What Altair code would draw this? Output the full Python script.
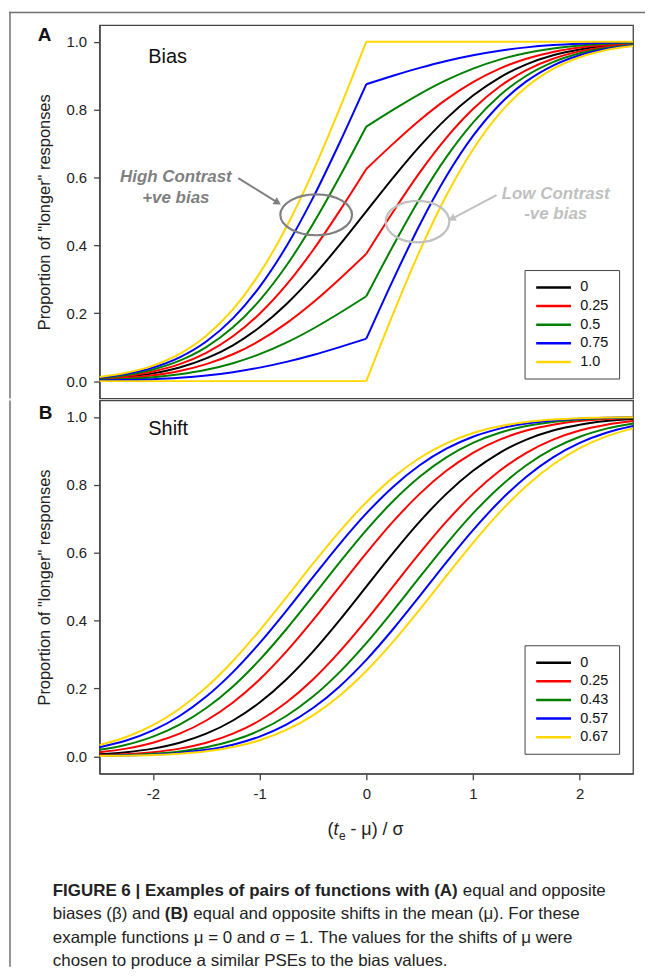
import altair as alt
import pandas as pd

# ---------------- data ----------------
X_FULL = [-2.5, -2.25, -2.0, -1.75, -1.5, -1.25, -1.0, -0.75, -0.5, -0.25, 0.0,
          0.25, 0.5, 0.75, 1.0, 1.25, 1.5, 1.75, 2.0, 2.25, 2.5]
X_LEFT = [-2.5, -2.25, -2.0, -1.75, -1.5, -1.25, -1.0, -0.75, -0.5, -0.25, 0.0]
X_RIGHT = [0.0, 0.25, 0.5, 0.75, 1.0, 1.25, 1.5, 1.75, 2.0, 2.25, 2.5]

A_LABELS = ["0", "0.25", "0.5", "0.75", "1.0"]
B_LABELS = ["0", "0.25", "0.43", "0.57", "0.67"]
COLORS = ["#000000", "#ff0000", "#008000", "#0000ff", "#ffd700"]

# Panel A (bias)
A_000 = [0.0062, 0.0122, 0.0228, 0.0401, 0.0668, 0.1056, 0.1587, 0.2266, 0.3085, 0.4013, 0.5,
         0.5987, 0.6915, 0.7734, 0.8413, 0.8944, 0.9332, 0.9599, 0.9772, 0.9878, 0.9938]
A_025_POS_L = [0.0078, 0.0153, 0.0285, 0.0501, 0.0835, 0.1320, 0.1984, 0.2833, 0.3856, 0.5016, 0.625]
A_025_POS_R = [0.625, 0.6990, 0.7686, 0.8300, 0.8810, 0.9208, 0.9499, 0.9699, 0.9829, 0.9908, 0.9953]
A_025_NEG_L = [0.0047, 0.0092, 0.0171, 0.0301, 0.0501, 0.0792, 0.1190, 0.1700, 0.2314, 0.3010, 0.375]
A_025_NEG_R = [0.375, 0.4984, 0.6144, 0.7167, 0.8016, 0.8680, 0.9165, 0.9499, 0.9715, 0.9847, 0.9922]
A_050_POS_L = [0.0093, 0.0183, 0.0342, 0.0602, 0.1002, 0.1584, 0.2381, 0.3399, 0.4628, 0.6020, 0.75]
A_050_POS_R = [0.75, 0.7994, 0.8458, 0.8867, 0.9207, 0.9472, 0.9666, 0.9800, 0.9886, 0.9939, 0.9969]
A_050_NEG_L = [0.0031, 0.0061, 0.0114, 0.0201, 0.0334, 0.0528, 0.0794, 0.1133, 0.1543, 0.2007, 0.25]
A_050_NEG_R = [0.25, 0.3980, 0.5372, 0.6601, 0.7619, 0.8416, 0.8998, 0.9398, 0.9658, 0.9817, 0.9907]
A_075_POS_L = [0.0109, 0.0214, 0.0399, 0.0702, 0.1169, 0.1848, 0.2777, 0.3966, 0.5399, 0.7023, 0.875]
A_075_POS_R = [0.875, 0.8997, 0.9229, 0.9434, 0.9603, 0.9736, 0.9833, 0.9900, 0.9943, 0.9970, 0.9985]
A_075_NEG_L = [0.0016, 0.0031, 0.0057, 0.0100, 0.0167, 0.0264, 0.0397, 0.0567, 0.0771, 0.1003, 0.125]
A_075_NEG_R = [0.125, 0.2977, 0.4601, 0.6034, 0.7223, 0.8152, 0.8831, 0.9298, 0.9601, 0.9786, 0.9891]
A_100_POS_L = [0.0124, 0.0244, 0.0456, 0.0802, 0.1336, 0.2112, 0.3174, 0.4532, 0.6170, 0.8026, 1.0]
A_100_POS_R = [1.0, 1.0, 1.0, 1.0, 1.0, 1.0, 1.0, 1.0, 1.0, 1.0, 1.0]
A_100_NEG_L = [0.0, 0.0, 0.0, 0.0, 0.0, 0.0, 0.0, 0.0, 0.0, 0.0, 0.0]
A_100_NEG_R = [0.0, 0.1974, 0.3830, 0.5468, 0.6826, 0.7888, 0.8664, 0.9198, 0.9544, 0.9756, 0.9876]

# Panel B (shift)
B_000 = [0.0062, 0.0122, 0.0228, 0.0401, 0.0668, 0.1056, 0.1587, 0.2266, 0.3085, 0.4013, 0.5,
         0.5987, 0.6915, 0.7734, 0.8413, 0.8944, 0.9332, 0.9599, 0.9772, 0.9878, 0.9938]
B_025_L = [0.0122, 0.0228, 0.0401, 0.0668, 0.1056, 0.1587, 0.2266, 0.3085, 0.4013, 0.5, 0.5987,
           0.6915, 0.7734, 0.8413, 0.8944, 0.9332, 0.9599, 0.9772, 0.9878, 0.9938, 0.9970]
B_025_R = [0.0030, 0.0062, 0.0122, 0.0228, 0.0401, 0.0668, 0.1056, 0.1587, 0.2266, 0.3085, 0.4013,
           0.5, 0.5987, 0.6915, 0.7734, 0.8413, 0.8944, 0.9332, 0.9599, 0.9772, 0.9878]
B_043_L = [0.0192, 0.0344, 0.0582, 0.0934, 0.1423, 0.2061, 0.2843, 0.3745, 0.4721, 0.5714, 0.6664,
           0.7517, 0.8238, 0.8810, 0.9236, 0.9535, 0.9732, 0.9854, 0.9925, 0.9963, 0.9983]
B_043_R = [0.0017, 0.0037, 0.0075, 0.0146, 0.0268, 0.0465, 0.0764, 0.1190, 0.1762, 0.2483, 0.3336,
           0.4286, 0.5279, 0.6255, 0.7157, 0.7939, 0.8577, 0.9066, 0.9418, 0.9656, 0.9808]
B_057_L = [0.0268, 0.0465, 0.0764, 0.1190, 0.1762, 0.2483, 0.3336, 0.4286, 0.5279, 0.6255, 0.7157,
           0.7939, 0.8577, 0.9066, 0.9418, 0.9656, 0.9808, 0.9898, 0.9949, 0.9976, 0.9989]
B_057_R = [0.0011, 0.0024, 0.0051, 0.0102, 0.0192, 0.0344, 0.0582, 0.0934, 0.1423, 0.2061, 0.2843,
           0.3745, 0.4721, 0.5714, 0.6664, 0.7517, 0.8238, 0.8810, 0.9236, 0.9535, 0.9732]
B_067_L = [0.0336, 0.0571, 0.0918, 0.1401, 0.2033, 0.2810, 0.3707, 0.4681, 0.5675, 0.6628, 0.7486,
           0.8212, 0.8790, 0.9222, 0.9525, 0.9726, 0.9850, 0.9922, 0.9962, 0.9982, 0.9992]
B_067_R = [0.0008, 0.0018, 0.0038, 0.0078, 0.0150, 0.0274, 0.0475, 0.0778, 0.1210, 0.1788, 0.2514,
           0.3372, 0.4325, 0.5319, 0.6293, 0.7190, 0.7967, 0.8599, 0.9082, 0.9429, 0.9664]

# Annotations of panel A (data units)
HIGH_TEXT = ["High Contrast", "+ve bias"]
HIGH_TX = [-1.785, -1.785]
HIGH_TY = [0.602, 0.540]
LOW_TEXT = ["Low Contrast", "-ve bias"]
LOW_TX = [1.775, 1.775]
LOW_TY = [0.550, 0.491]
ELLIPSE_X = [-0.47, 0.48]
ELLIPSE_Y = [0.490, 0.470]
ARROW_X0 = [-1.20, 1.22]
ARROW_Y0 = [0.598, 0.548]
ARROW_X1 = [-0.83, 0.80]
ARROW_Y1 = [0.526, 0.478]

CAPTION_1_BOLD = "FIGURE 6 | Examples of pairs of functions with (A)"
CAPTION_1_REST = "equal and opposite"
CAPTION_2_A = "biases (\u03b2) and"
CAPTION_2_BOLD = "(B)"
CAPTION_2_REST = "equal and opposite shifts in the mean (\u03bc). For these"
CAPTION_3 = "example functions \u03bc = 0 and \u03c3 = 1. The values for the shifts of \u03bc were"
CAPTION_4 = "chosen to produce a similar PSEs to the bias values."

# ---------------- build tables ----------------
def rows_for(label, seg, xs, ys):
    return [{"x": x, "y": y, "g": label, "seg": seg} for x, y in zip(xs, ys)]

rows_a = []
rows_a += rows_for("0", "k", X_FULL, A_000)
for lab, pl, pr, nl, nr in [
    ("0.25", A_025_POS_L, A_025_POS_R, A_025_NEG_L, A_025_NEG_R),
    ("0.5", A_050_POS_L, A_050_POS_R, A_050_NEG_L, A_050_NEG_R),
    ("0.75", A_075_POS_L, A_075_POS_R, A_075_NEG_L, A_075_NEG_R),
    ("1.0", A_100_POS_L, A_100_POS_R, A_100_NEG_L, A_100_NEG_R),
]:
    rows_a += rows_for(lab, lab + "pl", X_LEFT, pl)
    rows_a += rows_for(lab, lab + "pr", X_RIGHT, pr)
    rows_a += rows_for(lab, lab + "nl", X_LEFT, nl)
    rows_a += rows_for(lab, lab + "nr", X_RIGHT, nr)
df_a = pd.DataFrame(rows_a)

rows_b = []
rows_b += rows_for("0", "k", X_FULL, B_000)
for lab, l, r in [("0.25", B_025_L, B_025_R), ("0.43", B_043_L, B_043_R),
                  ("0.57", B_057_L, B_057_R), ("0.67", B_067_L, B_067_R)]:
    rows_b += rows_for(lab, lab + "l", X_FULL, l)
    rows_b += rows_for(lab, lab + "r", X_FULL, r)
df_b = pd.DataFrame(rows_b)

one = pd.DataFrame({"k": [0]})

# ---------------- styling ----------------
FONT = "Liberation Sans"
W, H = 536, 375
XS = alt.Scale(domain=[-2.5, 2.5], nice=False, zero=False)
YS = alt.Scale(domain=[-0.051, 1.0487], nice=False, zero=False)
Y_AXIS = alt.Axis(values=[0, 0.2, 0.4, 0.6, 0.8, 1.0], format=".1f", grid=False,
                  title='Proportion of "longer" responses', titlePadding=13, labelPadding=7)
X_A = alt.X("x:Q", scale=XS, axis=None)
Y_ENC = alt.Y("y:Q", scale=YS, axis=Y_AXIS)
LEG_PATH = "M-1,0L5,0"
FRAME = "#707070"


def legend():
    return alt.Legend(title=None, orient="none", legendX=427, legendY=246, direction="vertical",
                      strokeColor="#444", fillColor="white", padding=10, symbolType=LEG_PATH,
                      symbolSize=136, symbolStrokeWidth=2.5, labelFontSize=14.5, labelFont=FONT,
                      labelOffset=31, rowPadding=3.7, labelColor="#111")


def txt(text, x, y, size=16, weight="normal", style="normal", color="#222", align="left",
        baseline="middle"):
    return alt.Chart(one).mark_text(text=text, font=FONT, fontSize=size, fontWeight=weight,
                                    fontStyle=style, color=color, align=align,
                                    baseline=baseline).encode(x=alt.value(x), y=alt.value(y))


def frame_rect(x0, x1, y0, y1):
    return alt.Chart(one).mark_rect(color=FRAME, strokeWidth=0).encode(
        x=alt.value(x0), x2=alt.value(x1), y=alt.value(y0), y2=alt.value(y1))


# ---------------- panel A ----------------
lines_a = alt.Chart(df_a).mark_line(strokeWidth=2, interpolate="monotone").encode(
    x=X_A, y=Y_ENC,
    color=alt.Color("g:N", scale=alt.Scale(domain=A_LABELS, range=COLORS), legend=legend()),
    detail="seg:N",
)


def annotation(texts, tx, ty, ex, ey, ax0, ay0, ax1, ay1, color, ell_path, ell_size, angle):
    t = alt.Chart(pd.DataFrame({"x": tx, "y": ty, "t": texts})).mark_text(
        font=FONT, fontSize=17, fontWeight="bold", fontStyle="italic", color=color,
        align="center", baseline="middle").encode(x=X_A, y=Y_ENC, text="t:N")
    e = alt.Chart(pd.DataFrame({"x": [ex], "y": [ey]})).mark_point(
        shape=ell_path, size=ell_size, filled=False, color=color, strokeWidth=2.2,
        opacity=1).encode(x=X_A, y=Y_ENC)
    a = alt.Chart(pd.DataFrame({"x": [ax0], "y": [ay0], "x2": [ax1], "y2": [ay1]})).mark_rule(
        color=color, strokeWidth=2).encode(x=X_A, y=Y_ENC, x2="x2:Q", y2="y2:Q")
    hd = alt.Chart(pd.DataFrame({"x": [ax1], "y": [ay1]})).mark_point(
        shape="triangle-right", size=70, filled=True, color=color, angle=angle,
        opacity=1).encode(x=X_A, y=Y_ENC)
    return [e, a, hd, t]


ann_hi = annotation(HIGH_TEXT, HIGH_TX, HIGH_TY, ELLIPSE_X[0], ELLIPSE_Y[0], ARROW_X0[0],
                    ARROW_Y0[0], ARROW_X1[0], ARROW_Y1[0], "#7f7f7f",
                    "M-1,0A1,0.57,0,1,0,1,0A1,0.57,0,1,0,-1,0Z", 5184, 31)
ann_lo = annotation(LOW_TEXT, LOW_TX, LOW_TY, ELLIPSE_X[1], ELLIPSE_Y[1], ARROW_X0[1],
                    ARROW_Y0[1], ARROW_X1[1], ARROW_Y1[1], "#c0c0c0",
                    "M-1,0A1,0.65,0,1,0,1,0A1,0.65,0,1,0,-1,0Z", 4096, 152)

panel_a = alt.layer(
    lines_a, *ann_hi, *ann_lo,
    frame_rect(-90.75, 548, -13.5, -12), frame_rect(-90.75, -89.25, -13.5, 375),
    txt("A", -62, 10, size=19, weight="bold", color="#111"),
    txt("Bias", 49, 32, size=20, color="#111"),
).properties(width=W, height=H)

# ---------------- panel B ----------------
lines_b = alt.Chart(df_b).mark_line(strokeWidth=2, interpolate="monotone").encode(
    x=alt.X("x:Q", scale=XS, axis=alt.Axis(values=[-2, -1, 0, 1, 2], title=None, grid=False,
                                           labelExpr="'' + datum.value", labelPadding=7)),
    y=Y_ENC,
    color=alt.Color("g:N", scale=alt.Scale(domain=B_LABELS, range=COLORS), legend=legend()),
    detail="seg:N",
)

CAP = 17
panel_b = alt.layer(
    lines_b,
    frame_rect(-90.75, -89.25, 0, 569),
    txt("B", -61, 12.5, size=19, weight="bold", color="#111"),
    txt("Shift", 49, 29, size=20, color="#111"),
    # x axis title: (t_e - mu) / sigma
    txt("(", 229, 437, size=18, baseline="alphabetic"),
    txt("t", 235, 437, size=18, style="italic", baseline="alphabetic"),
    txt("e", 240.5, 441.5, size=12, baseline="alphabetic"),
    txt("- \u03bc) / \u03c3", 252, 437, size=18, baseline="alphabetic"),
    # caption
    txt(CAPTION_1_BOLD, -47, 497.5, size=CAP, weight="bold", baseline="alphabetic"),
    txt(CAPTION_1_REST, 365, 497.5, size=CAP, baseline="alphabetic"),
    txt(CAPTION_2_A, -47, 521.5, size=CAP, baseline="alphabetic"),
    txt(CAPTION_2_BOLD, 65.5, 521.5, size=CAP, weight="bold", baseline="alphabetic"),
    txt(CAPTION_2_REST, 94, 521.5, size=CAP, baseline="alphabetic"),
    txt(CAPTION_3, -47, 545, size=CAP, baseline="alphabetic"),
    txt(CAPTION_4, -47, 568, size=CAP, baseline="alphabetic"),
).properties(width=W, height=H)

chart = alt.vconcat(panel_a, panel_b, spacing=0).resolve_scale(color="independent").properties(
    padding=0, background="white"
).configure_view(stroke="#444", strokeWidth=1.3).configure_axis(
    domainColor="#444", tickColor="#444", domainWidth=1.3, tickWidth=1.3, tickSize=6,
    labelFont=FONT, labelFontSize=15, labelColor="#222",
    titleFont=FONT, titleFontSize=16.5, titleFontWeight="normal", titleColor="#222",
)

chart.save("out.html", embed_options={"renderer": "svg", "actions": False})
